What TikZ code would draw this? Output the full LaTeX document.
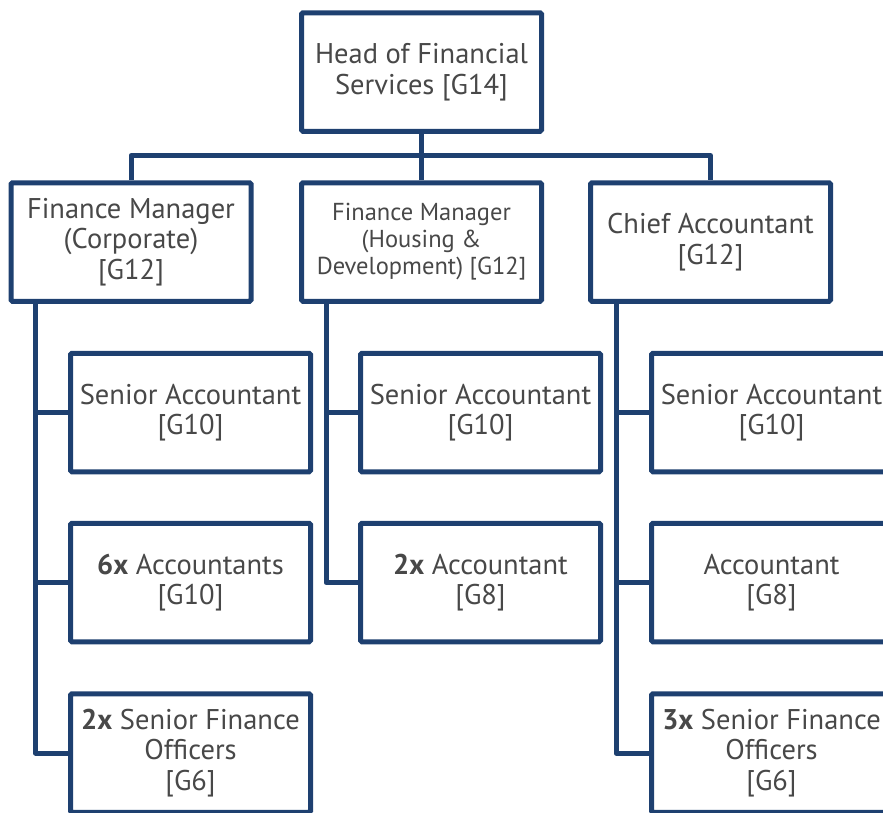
\documentclass[tikz,border=0pt]{standalone}
\usepackage{fontspec}
\setmainfont{PT Sans}
\definecolor{navy}{RGB}{30,64,112}
\definecolor{txt}{RGB}{72,72,72}
\begin{document}
\begin{tikzpicture}[x=1pt,y=-1pt,
  box/.style={draw=navy,line width=5pt,fill=white,rounded corners=1.5pt,
    minimum width=240pt,minimum height=118.5pt,align=center,text=txt,
    font=\fontsize{28.5}{30.5}\selectfont,inner sep=0pt},
  smallbox/.style={box,font=\fontsize{24.5}{27}\selectfont},
  link/.style={draw=navy,line width=5pt,line join=round}]
\useasboundingbox (0,0) rectangle (883,812);
\clip (0,0) rectangle (883,812);
% nodes
\node[box] (head) at (421.5,72) {Head of Financial\\Services [G14]};
\node[box] (fmc) at (131,242) {Finance Manager\\(Corporate)\\[0pt][G12]};
\node[smallbox] (fmh) at (421.5,242) {Finance Manager\\(Housing \&\\Development) [G12]};
\node[box] (ca) at (710.5,242) {Chief Accountant\\[0pt][G12]};
\node[box] (c1) at (190.5,412.5) {Senior Accountant\\[0pt][G10]};
\node[box] (c2) at (190.5,582.5) {\textbf{6x} Accountants\\[0pt][G10]};
\node[box] (c3) at (190.5,753) {\textbf{2x} Senior Finance\\Officers\\[0pt][G6]};
\node[box] (h1) at (480.5,412.5) {Senior Accountant\\[0pt][G10]};
\node[box] (h2) at (480.5,582.5) {\textbf{2x} Accountant\\[0pt][G8]};
\node[box] (a1) at (771.5,412.5) {Senior Accountant\\[0pt][G10]};
\node[box] (a2) at (771.5,582.5) {Accountant\\[0pt][G8]};
\node[box] (a3) at (771.5,753) {\textbf{3x} Senior Finance\\Officers\\[0pt][G6]};
% coordinates
\coordinate (bus) at (421.5,155.5);
\coordinate (spC) at (35.5,0);
\coordinate (spH) at (326,0);
\coordinate (spA) at (616,0);
% top connectors
\draw[link] (head.south) -- (head.south |- bus);
\draw[link] (fmc.north) |- (bus) -| (ca.north);
\draw[link] (fmh.north) -- (fmh.north |- bus);
% left column
\draw[link] (fmc.south -| spC) |- (c3.west);
\draw[link] (spC |- c1.west) -- (c1.west);
\draw[link] (spC |- c2.west) -- (c2.west);
% middle column
\draw[link] (fmh.south -| spH) |- (h2.west);
\draw[link] (spH |- h1.west) -- (h1.west);
% right column
\draw[link] (ca.south -| spA) |- (a3.west);
\draw[link] (spA |- a1.west) -- (a1.west);
\draw[link] (spA |- a2.west) -- (a2.west);
\end{tikzpicture}
\end{document}
